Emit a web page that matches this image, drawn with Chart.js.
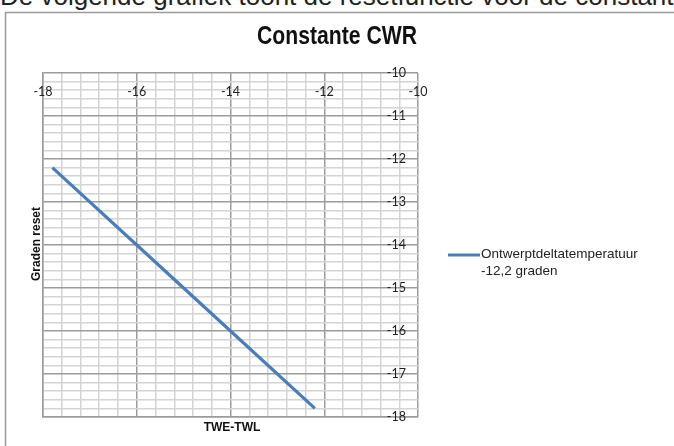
<!DOCTYPE html>
<html>
<head>
<meta charset="utf-8">
<script src="https://cdn.jsdelivr.net/npm/chart.js@4.4.1/dist/chart.umd.min.js"></script>
<style>
  html, body { margin: 0; padding: 0; background: #fff; overflow: hidden; }
  #wrap { position: relative; width: 674px; height: 446px; overflow: hidden; }
  #intro { position: absolute; left: 0; top: -19px; font: 26px "Liberation Sans", Arial, sans-serif; line-height: 30px; white-space: nowrap; color: #222; }
  canvas { position: absolute; left: 0; top: 0; }
</style>
</head>
<body>
<div id="wrap">
  <div id="intro">De volgende grafiek toont de resetfunctie voor de constante</div>
  <canvas id="chart" width="674" height="446"></canvas>
</div>
<script>
// data
const chartTitle = 'Constante CWR';
const seriesLabel = ['Ontwerptdeltatemperatuur', '-12,2 graden'];
const xValues = [-17.8, -16, -14, -12.2];
const yValues = [-12.2, -14, -16, -17.8];
const xTicks = [-18, -16, -14, -12, -10];
const yTicks = [-10, -11, -12, -13, -14, -15, -16, -17, -18];
const xTitle = 'TWE-TWL';
const yTitle = 'Graden reset';

const lineColor = '#4a7ebb';
const minorGrid = '#d4d4d4';
const majorGrid = '#9c9c9c';

function isMajor(v, step) {
  return Math.abs(v / step - Math.round(v / step)) < 1e-6;
}

const decor = {
  id: 'decor',
  beforeDraw(chart) {
    const ctx = chart.ctx;
    ctx.save();
    ctx.strokeStyle = '#9a9a9a';
    ctx.lineWidth = 1.5;
    ctx.strokeRect(5.5, 12.5, 720, 500);
    ctx.restore();
  },
  afterDraw(chart) {
    const ctx = chart.ctx;
    const xs = chart.scales.x, ys = chart.scales.y;
    ctx.save();
    ctx.fillStyle = '#111';

    // condensed bold title
    ctx.font = 'bold 25px "Liberation Sans Narrow", "Arial Narrow", Arial, sans-serif';
    ctx.textAlign = 'center';
    ctx.textBaseline = 'middle';
    ctx.fillText(chartTitle, 337, 37, 160);

    // tick labels sit inside the plot, as in the original
    ctx.font = '12.5px Lato, "Open Sans", sans-serif';
    ctx.fillStyle = '#222';
    const topY = ys.getPixelForValue(yTicks[0]);
    xTicks.forEach(v => {
      ctx.textAlign = 'center';
      ctx.fillText(String(v), xs.getPixelForValue(v), topY + 19);
    });
    const rightX = xs.getPixelForValue(xTicks[xTicks.length - 1]);
    yTicks.forEach(v => {
      ctx.textAlign = 'right';
      ctx.fillText(String(v), rightX - 12, ys.getPixelForValue(v));
    });

    ctx.font = 'bold 12px "Liberation Sans", Arial, sans-serif';
    ctx.fillStyle = '#111';
    ctx.textAlign = 'center';
    ctx.fillText(xTitle, 232, 428);
    ctx.save();
    ctx.translate(37, 244);
    ctx.rotate(-Math.PI / 2);
    ctx.fillText(yTitle, 0, 0);
    ctx.restore();

    // legend
    const ds = chart.data.datasets[0];
    ctx.strokeStyle = ds.borderColor;
    ctx.lineWidth = 3;
    ctx.beginPath();
    ctx.moveTo(448, 255);
    ctx.lineTo(480, 255);
    ctx.stroke();
    ctx.font = '13.5px "Liberation Sans", Arial, sans-serif';
    ctx.fillStyle = '#222';
    ctx.textAlign = 'left';
    seriesLabel.forEach((t, i) => ctx.fillText(t, 481, 254 + i * 17));
    ctx.restore();
  }
};

new Chart(document.getElementById('chart'), {
  type: 'scatter',
  data: {
    datasets: [{
      label: seriesLabel.join(' '),
      data: xValues.map((x, i) => ({ x: x, y: yValues[i] })),
      showLine: true,
      borderColor: lineColor,
      backgroundColor: lineColor,
      borderWidth: 3.2,
      pointRadius: 0,
      tension: 0
    }]
  },
  options: {
    responsive: false,
    animation: false,
    layout: { padding: { left: 43, top: 73, right: 256, bottom: 29 } },
    plugins: { legend: { display: false }, title: { display: false }, tooltip: { enabled: false } },
    scales: {
      x: {
        type: 'linear',
        min: -18, max: -10,
        ticks: { display: false, stepSize: 0.4 },
        grid: {
          drawTicks: false,
          lineWidth: 1.5,
          color: c => isMajor(c.tick.value, 2) ? majorGrid : minorGrid
        },
        border: { display: true, color: majorGrid, width: 1.5 }
      },
      y: {
        type: 'linear',
        min: -18, max: -10,
        ticks: { display: false, stepSize: 0.2 },
        grid: {
          drawTicks: false,
          lineWidth: 1.5,
          color: c => isMajor(c.tick.value, 1) ? majorGrid : minorGrid
        },
        border: { display: true, color: majorGrid, width: 1.5 }
      }
    }
  },
  plugins: [decor]
});
</script>
</body>
</html>
